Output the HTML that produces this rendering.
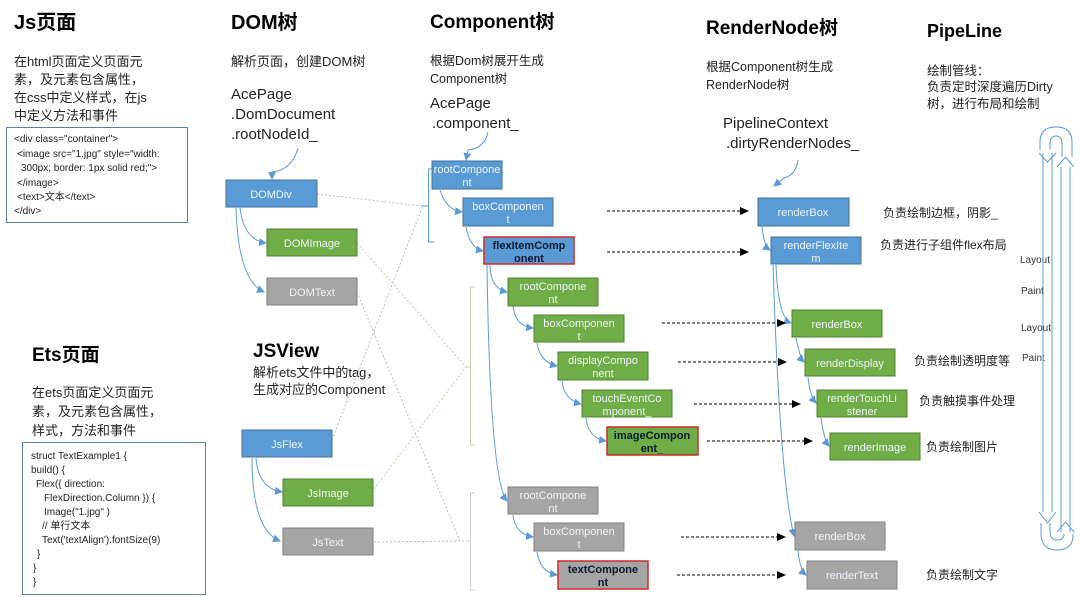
<!DOCTYPE html>
<html><head><meta charset="utf-8"><style>
html,body{margin:0;padding:0;background:#fff;}
body{width:1080px;height:597px;overflow:hidden;position:relative;font-family:"Liberation Sans","Noto Sans CJK SC",sans-serif;}
svg{position:absolute;left:0;top:0;}
</style></head><body>
<svg width="1080" height="597" viewBox="0 0 1080 597" xmlns="http://www.w3.org/2000/svg" font-family="Liberation Sans, Noto Sans CJK SC, sans-serif">
<defs>
<marker id="ab" markerWidth="8" markerHeight="8" refX="7" refY="4" orient="auto" markerUnits="userSpaceOnUse"><path d="M0,0 L8,4 L0,8 z" fill="#5b9bd5"/></marker>
<marker id="ak" markerWidth="9" markerHeight="8" refX="8" refY="4" orient="auto" markerUnits="userSpaceOnUse"><path d="M0,0 L9,4 L0,8 z" fill="#000"/></marker>
</defs>

<!-- headings -->
<g font-weight="bold" fill="#000">
<text x="14" y="29" font-size="20">Js页面</text>
<text x="231" y="29" font-size="20">DOM树</text>
<text x="430" y="28" font-size="19">Component树</text>
<text x="706" y="34" font-size="19">RenderNode树</text>
<text x="927" y="37" font-size="18">PipeLine</text>
<text x="32" y="361" font-size="19">Ets页面</text>
<text x="253" y="357" font-size="19">JSView</text>
</g>

<g font-size="13" fill="#222">
<text x="14" y="66">在html页面定义页面元</text>
<text x="14" y="84">素，及元素包含属性，</text>
<text x="14" y="102">在css中定义样式，在js</text>
<text x="14" y="120">中定义方法和事件</text>
<text x="231" y="66">解析页面，创建DOM树</text>
<text x="430" y="65" font-size="12.5">根据Dom树展开生成</text>
<text x="430" y="83" font-size="12.5">Component树</text>
<text x="706" y="71" font-size="12.5">根据Component树生成</text>
<text x="706" y="89" font-size="12.5">RenderNode树</text>
<text x="927" y="75" font-size="12.5">绘制管线：</text>
<text x="927" y="91" font-size="12.5">负责定时深度遍历Dirty</text>
<text x="927" y="108" font-size="12.5">树，进行布局和绘制</text>
<text x="253" y="377">解析ets文件中的tag，</text>
<text x="253" y="394">生成对应的Component</text>
<text x="32" y="397">在ets页面定义页面元</text>
<text x="32" y="416">素，及元素包含属性，</text>
<text x="32" y="435">样式，方法和事件</text>
</g>
<g font-size="15" fill="#222">
<text x="231" y="99">AcePage</text>
<text x="231" y="119">.DomDocument</text>
<text x="231" y="139">.rootNodeId_</text>
<text x="430" y="108">AcePage</text>
<text x="432" y="128">.component_</text>
<text x="723" y="128">PipelineContext</text>
<text x="726" y="148">.dirtyRenderNodes_</text>
</g>

<!-- code boxes -->
<rect x="6.5" y="127.5" width="181" height="95" fill="#fff" stroke="#5a7fb0"/>
<g font-size="10" fill="#222">
<text x="14" y="142">&lt;div class="container"&gt;</text>
<text x="17" y="157">&lt;image src="1.jpg"  style="width:</text>
<text x="21" y="171">300px;   border: 1px solid red;"&gt;</text>
<text x="17" y="186">&lt;/image&gt;</text>
<text x="17" y="200">&lt;text&gt;文本&lt;/text&gt;</text>
<text x="14" y="214">&lt;/div&gt;</text>
</g>
<rect x="22.5" y="442.5" width="183" height="152" fill="#fff" stroke="#5a7fb0"/>
<g font-size="10" fill="#222">
<text x="31" y="459">struct TextExample1 {</text>
<text x="31" y="473">build() {</text>
<text x="36" y="487">Flex({ direction:</text>
<text x="44" y="501">FlexDirection.Column }) {</text>
<text x="44" y="515">Image("1.jpg" )</text>
<text x="42" y="529">// 单行文本</text>
<text x="42" y="543">Text('textAlign').fontSize(9)</text>
<text x="37" y="557">}</text>
<text x="33" y="571">}</text>
<text x="33" y="585">}</text>
</g>

<!-- dashed cross connectors -->
<g fill="none" stroke="#b5b5b5" stroke-width="0.9" stroke-dasharray="2,2">
<path d="M317,194 L422,206"/>
<path d="M332,440 L423,205"/>
<path d="M357,243 L466,367" stroke="#b7c99a"/>
<path d="M374,489 L466,367" stroke="#b7c99a"/>
<path d="M357,292 L460,541"/>
<path d="M374,542 L466,541"/>
</g>
<!-- brackets -->
<g fill="none" stroke-width="1">
<path d="M434,169 L428.5,169 L428.5,242 L434,242 M428.5,206 L422,206" stroke="#5b9bd5"/>
<path d="M475,287 L470.5,287 L470.5,445 L475,445 M470.5,367 L466,367" stroke="#c5d6a8"/>
<path d="M475,493 L470.5,493 L470.5,590 L475,590 M470.5,541 L466,541" stroke="#cfcfcf"/>
</g>

<!-- blue curved connectors -->
<g fill="none" stroke="#5b9bd5" stroke-width="1">
<path d="M298,148 Q292,170 272,172 L272,179" marker-end="url(#ab)"/>
<path d="M240,208 Q244,240 266,243" marker-end="url(#ab)"/>
<path d="M236,208 Q238,280 264,292" marker-end="url(#ab)"/>
<path d="M256,458 Q258,488 282,492" marker-end="url(#ab)"/>
<path d="M252,458 Q252,530 280,541" marker-end="url(#ab)"/>
<path d="M488,132 Q485,148 468,150 L466,160" marker-end="url(#ab)"/>
<path d="M440,190 Q446,210 462,212" marker-end="url(#ab)"/>
<path d="M466,227 Q470,248 483,251" marker-end="url(#ab)"/>
<path d="M490,265 Q490,288 507,292" marker-end="url(#ab)"/>
<path d="M487,265 Q490,480 507,501" marker-end="url(#ab)"/>
<path d="M513,306 Q515,326 533,328" marker-end="url(#ab)"/>
<path d="M537,343 Q540,362 557,366" marker-end="url(#ab)"/>
<path d="M562,381 Q564,400 581,404" marker-end="url(#ab)"/>
<path d="M586,418 Q588,438 606,441" marker-end="url(#ab)"/>
<path d="M513,515 Q515,534 533,537" marker-end="url(#ab)"/>
<path d="M537,552 Q540,572 557,575" marker-end="url(#ab)"/>
<path d="M798,160 Q796,175 784,178 L774,186" marker-end="url(#ab)"/>
<path d="M762,227 Q764,246 770,250" marker-end="url(#ab)"/>
<path d="M776,265 Q778,318 791,323" marker-end="url(#ab)"/>
<path d="M773,265 Q780,480 794,536" marker-end="url(#ab)"/>
<path d="M796,338 Q800,358 804,362" marker-end="url(#ab)"/>
<path d="M808,377 Q810,396 816,403" marker-end="url(#ab)"/>
<path d="M821,418 Q824,440 829,446" marker-end="url(#ab)"/>
<path d="M798,551 Q800,570 806,575" marker-end="url(#ab)"/>
</g>

<!-- black dashed arrows -->
<g stroke="#000" stroke-width="1" stroke-dasharray="3,2" fill="none">
<path d="M607,211 L748,211" marker-end="url(#ak)"/>
<path d="M607,252 L748,252" marker-end="url(#ak)"/>
<path d="M662,323 L785,323" marker-end="url(#ak)"/>
<path d="M678,362 L786,362" marker-end="url(#ak)"/>
<path d="M694,404 L800,404" marker-end="url(#ak)"/>
<path d="M707,441 L812,441" marker-end="url(#ak)"/>
<path d="M681,537 L785,537" marker-end="url(#ak)"/>
<path d="M677,575 L785,575" marker-end="url(#ak)"/>
</g>

<!-- boxes -->
<g font-size="11" text-anchor="middle">
<g fill="#5b9bd5" stroke="#41719c">
<rect x="226" y="180" width="91" height="27"/>
<rect x="242" y="430" width="90" height="27"/>
<rect x="432" y="161" width="70" height="28"/>
<rect x="463" y="198" width="90" height="28"/>
<rect x="758" y="198" width="91" height="28"/>
<rect x="771" y="237" width="90" height="27"/>
</g>
<rect x="484" y="237" width="90" height="27" fill="#5b9bd5" stroke="#d12a2a" stroke-width="1.5"/>
<g fill="#70ad47" stroke="#507e32">
<rect x="267" y="229" width="90" height="27"/>
<rect x="283" y="479" width="90" height="27"/>
<rect x="508" y="278" width="90" height="28"/>
<rect x="534" y="315" width="90" height="27"/>
<rect x="558" y="352" width="90" height="28"/>
<rect x="582" y="390" width="90" height="27"/>
<rect x="792" y="310" width="90" height="27"/>
<rect x="805" y="349" width="90" height="27"/>
<rect x="817" y="390" width="90" height="27"/>
<rect x="830" y="433" width="90" height="27"/>
</g>
<rect x="607" y="427" width="91" height="28" fill="#70ad47" stroke="#d12a2a" stroke-width="1.5"/>
<g fill="#a5a5a5" stroke="#7f7f7f">
<rect x="267" y="278" width="90" height="27"/>
<rect x="283" y="528" width="90" height="27"/>
<rect x="508" y="487" width="90" height="27"/>
<rect x="534" y="523" width="90" height="28"/>
<rect x="795" y="522" width="90" height="28"/>
<rect x="807" y="561" width="90" height="28"/>
</g>
<rect x="558" y="561" width="90" height="28" fill="#a5a5a5" stroke="#d12a2a" stroke-width="1.5"/>

<g fill="#eef4fb">
<text x="271" y="198">DOMDiv</text>
<text x="312" y="247">DOMImage</text>
<text x="312" y="296">DOMText</text>
<text x="287" y="448">JsFlex</text>
<text x="328" y="497">JsImage</text>
<text x="328" y="546">JsText</text>
<text x="467" y="173">rootCompone</text><text x="467" y="186">nt</text>
<text x="508" y="210">boxComponen</text><text x="508" y="223">t</text>
<text x="803" y="216">renderBox</text>
<text x="816" y="249">renderFlexIte</text><text x="816" y="262">m</text>
<text x="553" y="290">rootCompone</text><text x="553" y="303">nt</text>
<text x="579" y="327">boxComponen</text><text x="579" y="340">t</text>
<text x="603" y="364">displayCompo</text><text x="603" y="377">nent</text>
<text x="627" y="402">touchEventCo</text><text x="627" y="415">mponent_</text>
<text x="837" y="328">renderBox</text>
<text x="850" y="367">renderDisplay</text>
<text x="862" y="402">renderTouchLi</text><text x="862" y="415">stener</text>
<text x="875" y="451">renderImage</text>
<text x="553" y="499">rootCompone</text><text x="553" y="512">nt</text>
<text x="579" y="535">boxComponen</text><text x="579" y="548">t</text>
<text x="840" y="540">renderBox</text>
<text x="852" y="579">renderText</text>
</g>
<g fill="#0b1a2e" font-weight="bold">
<text x="529" y="249">flexItemComp</text><text x="529" y="262">onent</text>
<text x="652" y="439">imageCompon</text><text x="652" y="452">ent_</text>
<text x="603" y="573">textCompone</text><text x="603" y="586">nt</text>
</g>
</g>

<!-- descriptions -->
<g font-size="12" fill="#222">
<text x="883" y="217">负责绘制边框，阴影_</text>
<text x="880" y="249">负责进行子组件flex布局</text>
<text x="914" y="365">负责绘制透明度等</text>
<text x="919" y="405">负责触摸事件处理</text>
<text x="926" y="451">负责绘制图片</text>
<text x="926" y="579">负责绘制文字</text>
</g>
<g font-size="10" fill="#333">
<text x="1020" y="263">Layout</text>
<text x="1021" y="294">Paint</text>
<text x="1021" y="331">Layout</text>
<text x="1022" y="361">Paint</text>
</g>

<!-- pipeline loop -->
<g fill="none" stroke="#5b9bd5" stroke-width="1">
<path d="M1043,153 L1043,512 M1052,153 L1052,512"/>
<path d="M1061,167 L1061,532 M1070,167 L1070,532"/>
<path d="M1039,153 L1047.5,162 L1056,153 M1039,512 L1047.5,523 L1056,512"/>
<path d="M1057,167 L1065.5,157 L1074,167 M1057,532 L1065.5,522 L1074,532"/>
<path d="M1040,150 L1040,142 Q1040,127 1056,127 Q1072,127 1072,142 L1072,157"/>
<path d="M1050,150 L1050,144 Q1050,136 1056,136 Q1062,136 1062,144 L1062,157"/>
<path d="M1041,523 L1041,533 Q1041,550 1057,550 Q1073,550 1073,535 L1073,534"/>
<path d="M1050,523 L1050,531 Q1050,540 1057,540 Q1064,540 1064,534"/>
</g>
</svg>
</body></html>
